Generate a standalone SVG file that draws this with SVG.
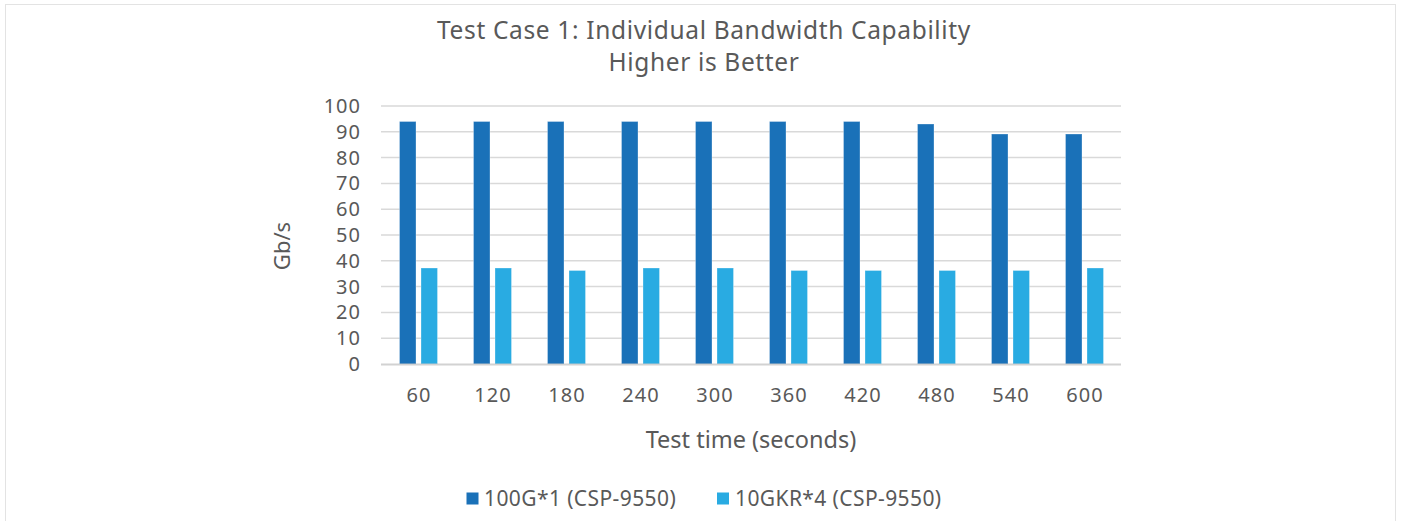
<svg xmlns="http://www.w3.org/2000/svg" width="1401" height="521" viewBox="0 0 1401 521">
<style>
text{font-family:"Noto Sans","Open Sans","DejaVu Sans",sans-serif;fill:#595959}
.grid{stroke:#d9d9d9;stroke-width:1.5}
.d{fill:#1a71b8;stroke:#ffffff;stroke-opacity:0.3;stroke-width:1}
.l{fill:#29abe2;stroke:#ffffff;stroke-opacity:0.3;stroke-width:1}
.yt{font-size:20px;letter-spacing:1px;text-anchor:end}
.xt{font-size:20px;letter-spacing:1px;text-anchor:middle}
.lg{font-size:21px;letter-spacing:0.4px}
.tt{font-size:24.5px;letter-spacing:0.65px;text-anchor:middle}
</style>
<rect x="5.5" y="4.5" width="1390" height="540" fill="#ffffff" stroke="#e3e3e3" stroke-width="1"/>
<g id="title">
<text class="tt" x="704" y="39">Test Case 1: Individual Bandwidth Capability</text>
<text class="tt" x="704" y="70.5">Higher is Better</text>
</g>
<g id="gridlines">
<line class="grid" x1="381" y1="106" x2="1121" y2="106"/>
<line class="grid" x1="381" y1="131.8" x2="1121" y2="131.8"/>
<line class="grid" x1="381" y1="157.6" x2="1121" y2="157.6"/>
<line class="grid" x1="381" y1="183.4" x2="1121" y2="183.4"/>
<line class="grid" x1="381" y1="209.2" x2="1121" y2="209.2"/>
<line class="grid" x1="381" y1="235" x2="1121" y2="235"/>
<line class="grid" x1="381" y1="260.8" x2="1121" y2="260.8"/>
<line class="grid" x1="381" y1="286.6" x2="1121" y2="286.6"/>
<line class="grid" x1="381" y1="312.4" x2="1121" y2="312.4"/>
<line class="grid" x1="381" y1="338.2" x2="1121" y2="338.2"/>
</g>
<g id="y-axis">
<text class="yt" x="361" y="113">100</text>
<text class="yt" x="361" y="139">90</text>
<text class="yt" x="361" y="165">80</text>
<text class="yt" x="361" y="190">70</text>
<text class="yt" x="361" y="216">60</text>
<text class="yt" x="361" y="242">50</text>
<text class="yt" x="361" y="268">40</text>
<text class="yt" x="361" y="294">30</text>
<text class="yt" x="361" y="319">20</text>
<text class="yt" x="361" y="345">10</text>
<text class="yt" x="361" y="371">0</text>
<text x="284" y="246" font-size="22" text-anchor="middle" transform="rotate(-90 284 246)" dominant-baseline="middle">Gb/s</text>
</g>
<g id="series-100G">
<rect class="d" x="399.5" y="121.5" width="16.5" height="242.5"/>
<rect class="d" x="473.5" y="121.5" width="16.5" height="242.5"/>
<rect class="d" x="547.5" y="121.5" width="16.5" height="242.5"/>
<rect class="d" x="621.5" y="121.5" width="16.5" height="242.5"/>
<rect class="d" x="695.5" y="121.5" width="16.5" height="242.5"/>
<rect class="d" x="769.5" y="121.5" width="16.5" height="242.5"/>
<rect class="d" x="843.5" y="121.5" width="16.5" height="242.5"/>
<rect class="d" x="917.5" y="124" width="16.5" height="240"/>
<rect class="d" x="991.5" y="134" width="16.5" height="230"/>
<rect class="d" x="1065.5" y="134" width="16.5" height="230"/>
</g>
<g id="series-10GKR">
<rect class="l" x="421" y="268" width="16.5" height="96"/>
<rect class="l" x="495" y="268" width="16.5" height="96"/>
<rect class="l" x="569" y="270.5" width="16.5" height="93.5"/>
<rect class="l" x="643" y="268" width="16.5" height="96"/>
<rect class="l" x="717" y="268" width="16.5" height="96"/>
<rect class="l" x="791" y="270.5" width="16.5" height="93.5"/>
<rect class="l" x="865" y="270.5" width="16.5" height="93.5"/>
<rect class="l" x="939" y="270.5" width="16.5" height="93.5"/>
<rect class="l" x="1013" y="270.5" width="16.5" height="93.5"/>
<rect class="l" x="1087" y="268" width="16.5" height="96"/>
</g>
<g id="x-axis">
<line x1="381" y1="364.5" x2="1121" y2="364.5" stroke="#bfbfbf" stroke-opacity="0.7" stroke-width="2"/>
<text class="xt" x="419" y="402">60</text>
<text class="xt" x="493" y="402">120</text>
<text class="xt" x="567" y="402">180</text>
<text class="xt" x="641" y="402">240</text>
<text class="xt" x="715" y="402">300</text>
<text class="xt" x="789" y="402">360</text>
<text class="xt" x="863" y="402">420</text>
<text class="xt" x="937" y="402">480</text>
<text class="xt" x="1011" y="402">540</text>
<text class="xt" x="1085" y="402">600</text>
<text x="751" y="448" font-size="23.5" text-anchor="middle">Test time (seconds)</text>
</g>
<g id="legend">
<rect x="466.5" y="492.5" width="12" height="12" fill="#1a71b8"/>
<text class="lg" x="484" y="505.5">100G*1 (CSP-9550)</text>
<rect x="717" y="492.5" width="12" height="12" fill="#29abe2"/>
<text class="lg" x="735" y="505.5">10GKR*4 (CSP-9550)</text>
</g>
</svg>
